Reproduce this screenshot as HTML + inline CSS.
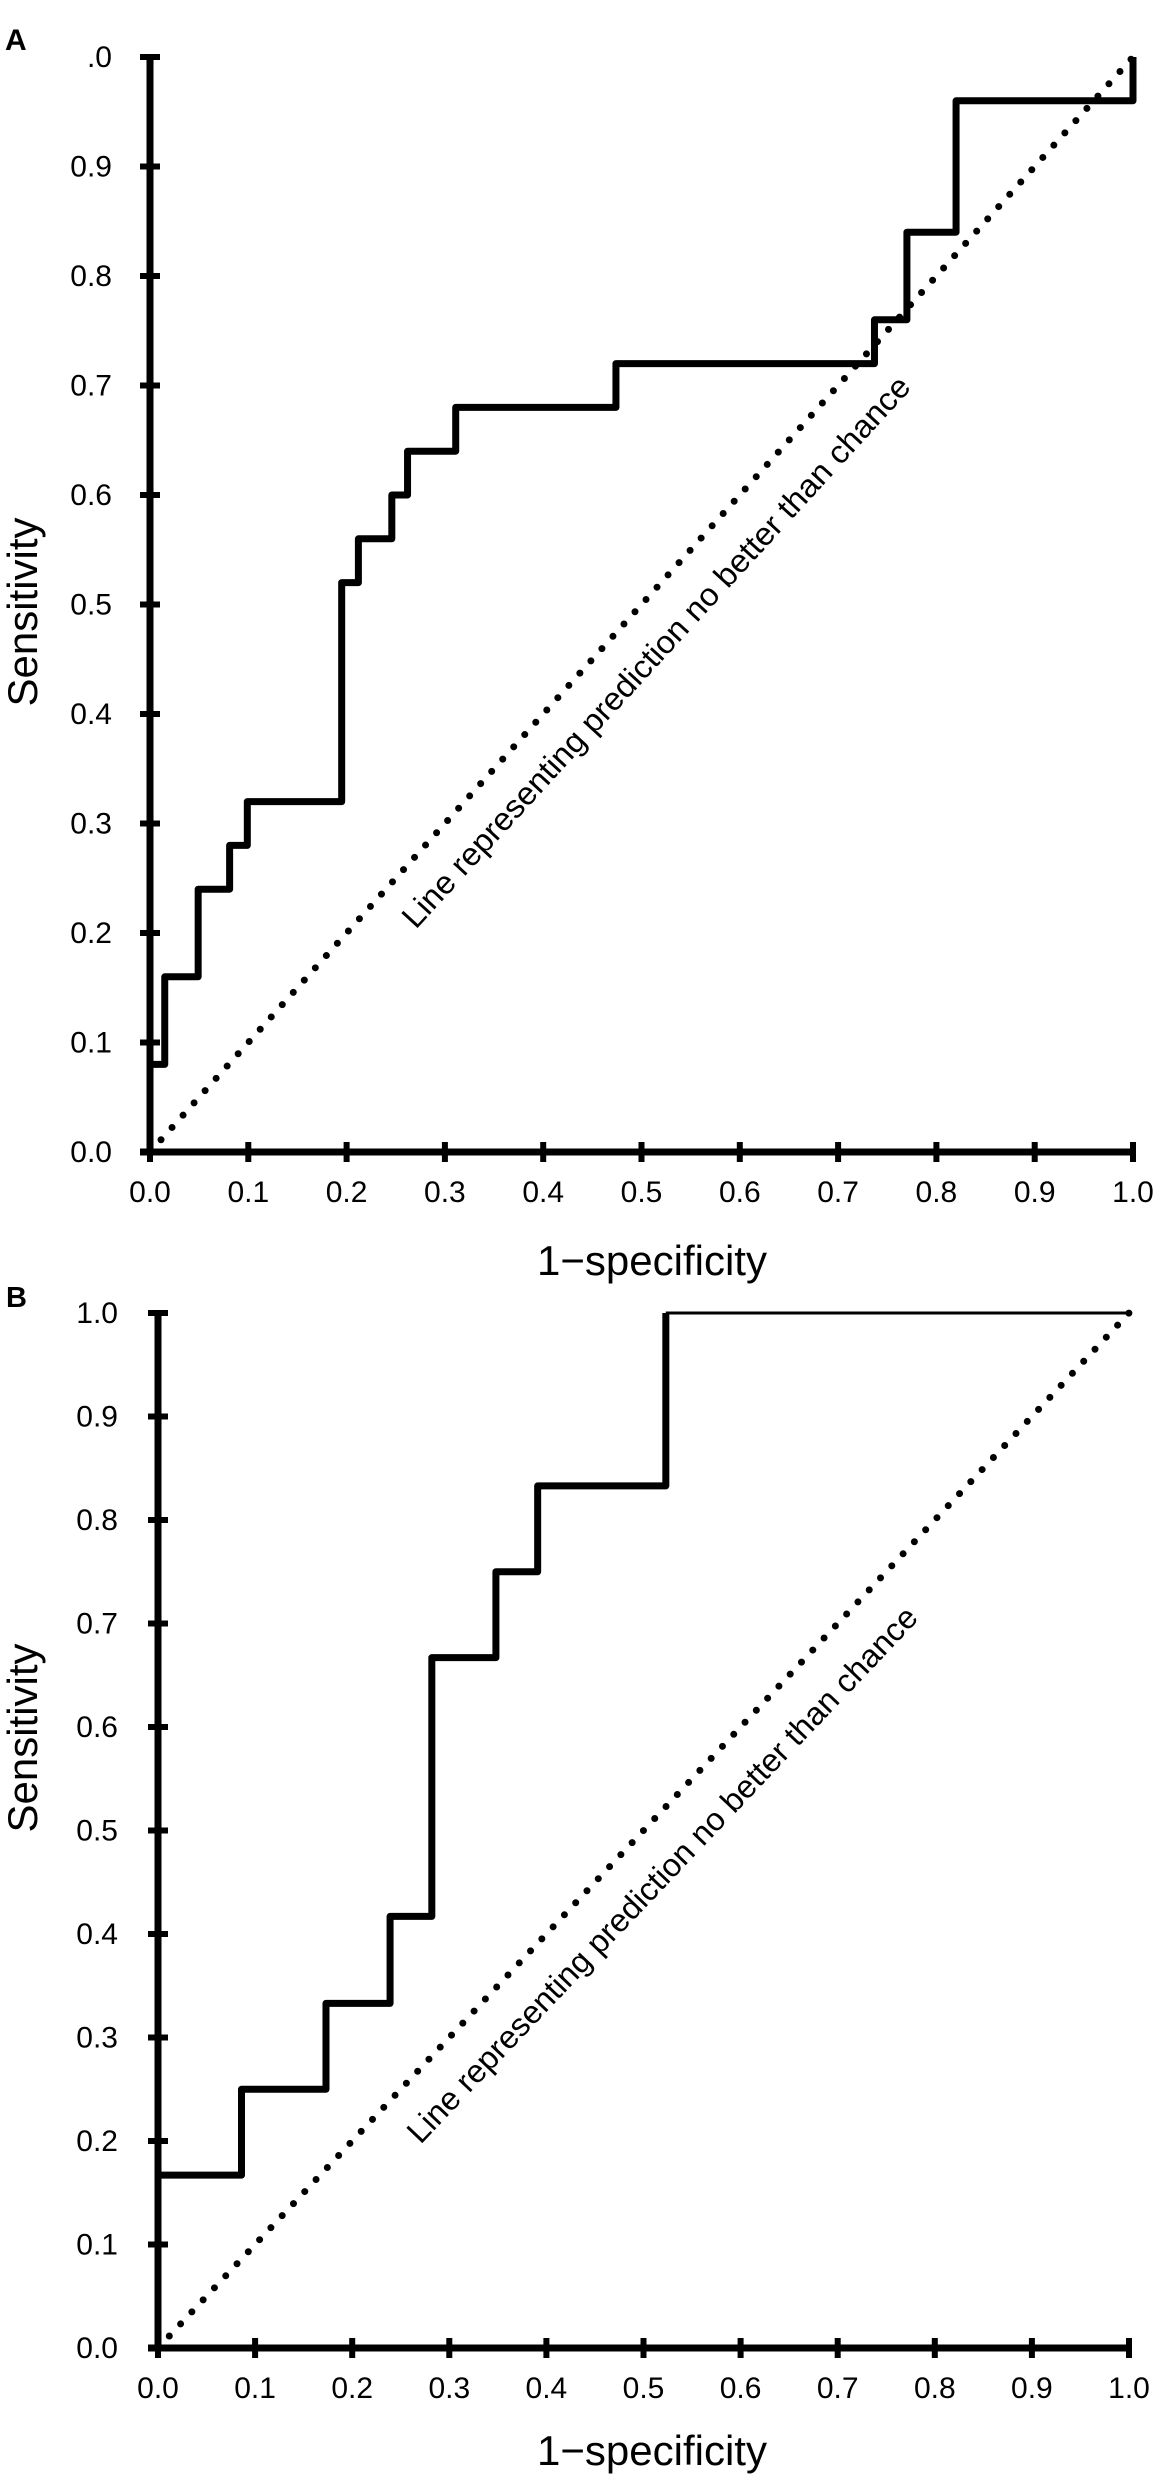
<!DOCTYPE html>
<html><head><meta charset="utf-8"><style>
html,body{margin:0;padding:0;background:#fff;}
svg{display:block;font-family:"Liberation Sans",Arial,sans-serif;}
</style></head><body>
<svg id="fig" width="1156" height="2480" viewBox="0 0 1156 2480" xmlns="http://www.w3.org/2000/svg">
<text x="5" y="50" font-size="30" font-weight="bold">A</text>
<text x="6" y="1307" font-size="29" font-weight="bold">B</text>
<text transform="translate(37,612) rotate(-90)" text-anchor="middle" font-size="42">Sensitivity</text>
<text x="652" y="1275" text-anchor="middle" font-size="42">1−specificity</text>
<text transform="translate(37,1738) rotate(-90)" text-anchor="middle" font-size="42">Sensitivity</text>
<text x="652" y="2465" text-anchor="middle" font-size="42">1−specificity</text>
<text transform="translate(664,659) rotate(-47.5)" text-anchor="middle" font-size="32" textLength="735" lengthAdjust="spacingAndGlyphs">Line representing prediction no better than chance</text>
<text transform="translate(670,1882) rotate(-46.5)" text-anchor="middle" font-size="32" textLength="725" lengthAdjust="spacingAndGlyphs">Line representing prediction no better than chance</text>
</svg>
<script>
// Panel A data
const aFpr = [0, 0, 0.015, 0.015, 0.049, 0.049, 0.081, 0.081, 0.099, 0.099, 0.195, 0.195, 0.212, 0.212, 0.246, 0.246, 0.262, 0.262, 0.311, 0.311, 0.474, 0.474, 0.737, 0.737, 0.770, 0.770, 0.820, 0.820, 1.0, 1.0];
const aTpr = [0, 0.08, 0.08, 0.16, 0.16, 0.24, 0.24, 0.28, 0.28, 0.32, 0.32, 0.52, 0.52, 0.56, 0.56, 0.60, 0.60, 0.64, 0.64, 0.68, 0.68, 0.72, 0.72, 0.76, 0.76, 0.84, 0.84, 0.96, 0.96, 1.0];
const aYTickLabels = ["0.0","0.1","0.2","0.3","0.4","0.5","0.6","0.7","0.8","0.9",".0"];
// Panel B data
const bFpr = [0, 0, 0.086, 0.086, 0.173, 0.173, 0.239, 0.239, 0.282, 0.282, 0.348, 0.348, 0.391, 0.391, 0.523, 0.523];
const bTpr = [0, 0.167, 0.167, 0.25, 0.25, 0.333, 0.333, 0.417, 0.417, 0.667, 0.667, 0.75, 0.75, 0.833, 0.833, 1.0];
const bTopFpr = [0.523, 1.0];
const bTopTpr = [1.0, 1.0];
const bYTickLabels = ["0.0","0.1","0.2","0.3","0.4","0.5","0.6","0.7","0.8","0.9","1.0"];
const tickValues = [0,0.1,0.2,0.3,0.4,0.5,0.6,0.7,0.8,0.9,1.0];
const xTickLabels = ["0.0","0.1","0.2","0.3","0.4","0.5","0.6","0.7","0.8","0.9","1.0"];

const NS = "http://www.w3.org/2000/svg";
const svg = document.getElementById("fig");
function mk(tag, attrs){ const e=document.createElementNS(NS,tag); for(const k in attrs) e.setAttribute(k,attrs[k]); svg.appendChild(e); return e; }

function drawPanel(p, cfg){
  const sx = v => cfg.x0 + v*(cfg.x1-cfg.x0);
  const sy = v => cfg.y0 - v*(cfg.y0-cfg.y1);
  let d = mk("line",{x1:sx(0),y1:sy(0),x2:sx(1),y2:sy(1),stroke:"#000","stroke-width":7,"stroke-linecap":"round","stroke-dasharray":"0 16.5"});
  
  
  let ya = mk("line",{x1:cfg.x0,y1:sy(1),x2:cfg.x0,y2:sy(0)+3,stroke:"#000","stroke-width":7});
  
  
  let xa = mk("line",{x1:cfg.x0-10,y1:cfg.y0,x2:sx(1)+3,y2:cfg.y0,stroke:"#000","stroke-width":7});
  
  
  tickValues.forEach((v,i)=>{
    let t = mk("line",{x1:cfg.x0-10,y1:sy(v),x2:cfg.x0+10,y2:sy(v),stroke:"#000","stroke-width":6});
    
    
    let l = mk("text",{x:cfg.ylabX,y:sy(v)+10,"text-anchor":"end","font-size":30});
    l.textContent = cfg.yLabels[i];
    
    
    let tx = mk("line",{x1:sx(v),y1:cfg.y0-10,x2:sx(v),y2:cfg.y0+10,stroke:"#000","stroke-width":6});
    
    
    let lx = mk("text",{x:sx(v),y:cfg.xlabY,"text-anchor":"middle","font-size":30});
    lx.textContent = xTickLabels[i];
    
    
  });
  const pts = cfg.fx.map((v,i)=>sx(v)+","+sy(cfg.fy[i])).join(" ");
  let c = mk("polyline",{points:pts,fill:"none",stroke:"#000","stroke-width":7,"stroke-linejoin":"round"});
  
  
  if(cfg.tx){
    const pts2 = cfg.tx.map((v,i)=>sx(v)+","+sy(cfg.ty[i])).join(" ");
    let c2 = mk("polyline",{points:pts2,fill:"none",stroke:"#000","stroke-width":3});
    
    
  }
}
drawPanel("panel-a",{x0:150,x1:1133,y0:1152,y1:57,ylabX:112,xlabY:1202,yLabels:aYTickLabels,fx:aFpr,fy:aTpr});
drawPanel("panel-b",{x0:158,x1:1129,y0:2348,y1:1313,ylabX:118,xlabY:2398,yLabels:bYTickLabels,fx:bFpr,fy:bTpr,tx:bTopFpr,ty:bTopTpr});
</script>
</body></html>
